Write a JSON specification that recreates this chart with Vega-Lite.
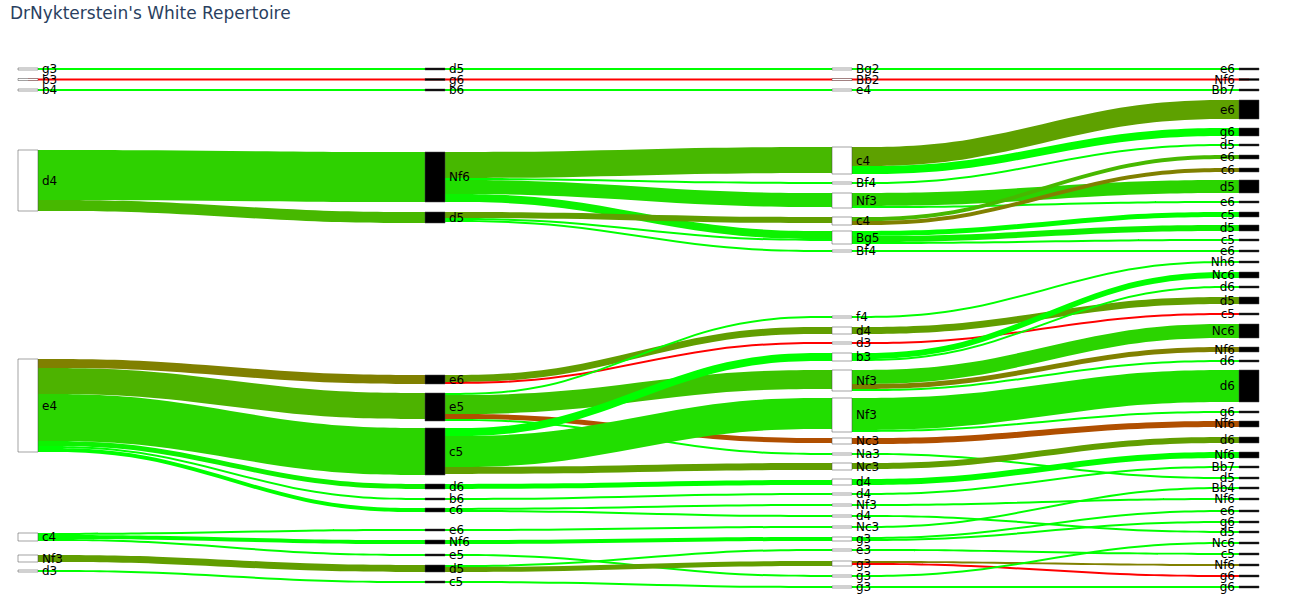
{
"$schema":"https://vega.github.io/schema/vega-lite/v6.json",
"width":1291,"height":614,
"autosize":"none",
"padding":0,
"background":"white",
"config":{"view":{"stroke":null}},
"title":{"text":"DrNykterstein's White Repertoire","anchor":"start","frame":"group","offset":-18,"dx":10,"dy":17.5,"baseline":"alphabetic","font":"DejaVu Sans","fontSize":17,"fontWeight":"normal","color":"#2a3f5f"},
"datasets":{
"nodes":[
{"id":1,"stage":0,"label":"g3","side":"White","y0":68,"y1":70},
{"id":2,"stage":0,"label":"b3","side":"White","y0":78.5,"y1":80.5},
{"id":3,"stage":0,"label":"b4","side":"White","y0":89,"y1":91},
{"id":4,"stage":0,"label":"d4","side":"White","y0":150,"y1":211},
{"id":5,"stage":0,"label":"e4","side":"White","y0":359,"y1":452},
{"id":6,"stage":0,"label":"c4","side":"White","y0":533,"y1":541},
{"id":7,"stage":0,"label":"Nf3","side":"White","y0":555,"y1":562},
{"id":8,"stage":0,"label":"d3","side":"White","y0":570,"y1":572},
{"id":9,"stage":1,"label":"d5","side":"Black","y0":68,"y1":70},
{"id":10,"stage":1,"label":"g6","side":"Black","y0":78.5,"y1":80.5},
{"id":11,"stage":1,"label":"b6","side":"Black","y0":89,"y1":91},
{"id":12,"stage":1,"label":"Nf6","side":"Black","y0":152,"y1":202},
{"id":13,"stage":1,"label":"d5","side":"Black","y0":212,"y1":223},
{"id":14,"stage":1,"label":"e6","side":"Black","y0":375,"y1":384},
{"id":15,"stage":1,"label":"e5","side":"Black","y0":393,"y1":421},
{"id":16,"stage":1,"label":"c5","side":"Black","y0":428,"y1":475},
{"id":17,"stage":1,"label":"d6","side":"Black","y0":484,"y1":489},
{"id":18,"stage":1,"label":"b6","side":"Black","y0":498,"y1":500},
{"id":19,"stage":1,"label":"c6","side":"Black","y0":508,"y1":512},
{"id":20,"stage":1,"label":"e6","side":"Black","y0":529,"y1":531},
{"id":21,"stage":1,"label":"Nf6","side":"Black","y0":540,"y1":544},
{"id":22,"stage":1,"label":"e5","side":"Black","y0":554,"y1":556},
{"id":23,"stage":1,"label":"d5","side":"Black","y0":565,"y1":572},
{"id":24,"stage":1,"label":"c5","side":"Black","y0":581,"y1":583},
{"id":25,"stage":2,"label":"Bg2","side":"White","y0":68,"y1":70},
{"id":26,"stage":2,"label":"Bb2","side":"White","y0":78.5,"y1":80.5},
{"id":27,"stage":2,"label":"e4","side":"White","y0":89,"y1":91},
{"id":28,"stage":2,"label":"c4","side":"White","y0":147,"y1":174},
{"id":29,"stage":2,"label":"Bf4","side":"White","y0":182,"y1":184},
{"id":30,"stage":2,"label":"Nf3","side":"White","y0":193,"y1":208},
{"id":31,"stage":2,"label":"c4","side":"White","y0":217,"y1":225},
{"id":32,"stage":2,"label":"Bg5","side":"White","y0":231,"y1":244},
{"id":33,"stage":2,"label":"Bf4","side":"White","y0":250,"y1":252},
{"id":34,"stage":2,"label":"f4","side":"White","y0":316,"y1":318},
{"id":35,"stage":2,"label":"d4","side":"White","y0":327,"y1":334},
{"id":36,"stage":2,"label":"d3","side":"White","y0":342,"y1":344},
{"id":37,"stage":2,"label":"b3","side":"White","y0":353,"y1":361},
{"id":38,"stage":2,"label":"Nf3","side":"White","y0":370,"y1":391},
{"id":39,"stage":2,"label":"Nf3","side":"White","y0":398,"y1":432},
{"id":40,"stage":2,"label":"Nc3","side":"White","y0":438,"y1":444},
{"id":41,"stage":2,"label":"Na3","side":"White","y0":453,"y1":455},
{"id":42,"stage":2,"label":"Nc3","side":"White","y0":463,"y1":470},
{"id":43,"stage":2,"label":"d4","side":"White","y0":479,"y1":485},
{"id":44,"stage":2,"label":"d4","side":"White","y0":493,"y1":495},
{"id":45,"stage":2,"label":"Nf3","side":"White","y0":504,"y1":506},
{"id":46,"stage":2,"label":"d4","side":"White","y0":515,"y1":517},
{"id":47,"stage":2,"label":"Nc3","side":"White","y0":526,"y1":528},
{"id":48,"stage":2,"label":"g3","side":"White","y0":537,"y1":541},
{"id":49,"stage":2,"label":"e3","side":"White","y0":549,"y1":551},
{"id":50,"stage":2,"label":"g3","side":"White","y0":561,"y1":566},
{"id":51,"stage":2,"label":"g3","side":"White","y0":575,"y1":577},
{"id":52,"stage":2,"label":"g3","side":"White","y0":586,"y1":588},
{"id":53,"stage":3,"label":"e6","side":"Black","y0":68,"y1":70},
{"id":54,"stage":3,"label":"Nf6","side":"Black","y0":78.5,"y1":80.5},
{"id":55,"stage":3,"label":"Bb7","side":"Black","y0":89,"y1":91},
{"id":56,"stage":3,"label":"e6","side":"Black","y0":100,"y1":119},
{"id":57,"stage":3,"label":"g6","side":"Black","y0":128,"y1":136},
{"id":58,"stage":3,"label":"d5","side":"Black","y0":144,"y1":146},
{"id":59,"stage":3,"label":"e6","side":"Black","y0":155,"y1":159},
{"id":60,"stage":3,"label":"c6","side":"Black","y0":168,"y1":172},
{"id":61,"stage":3,"label":"d5","side":"Black","y0":180,"y1":193},
{"id":62,"stage":3,"label":"e6","side":"Black","y0":201,"y1":203},
{"id":63,"stage":3,"label":"c5","side":"Black","y0":212,"y1":217},
{"id":64,"stage":3,"label":"d5","side":"Black","y0":225,"y1":231},
{"id":65,"stage":3,"label":"c5","side":"Black","y0":239,"y1":241},
{"id":66,"stage":3,"label":"e6","side":"Black","y0":250,"y1":252},
{"id":67,"stage":3,"label":"Nh6","side":"Black","y0":261,"y1":263},
{"id":68,"stage":3,"label":"Nc6","side":"Black","y0":272,"y1":278},
{"id":69,"stage":3,"label":"d6","side":"Black","y0":286,"y1":288},
{"id":70,"stage":3,"label":"d5","side":"Black","y0":297,"y1":304},
{"id":71,"stage":3,"label":"c5","side":"Black","y0":313,"y1":315},
{"id":72,"stage":3,"label":"Nc6","side":"Black","y0":324,"y1":338},
{"id":73,"stage":3,"label":"Nf6","side":"Black","y0":347,"y1":352},
{"id":74,"stage":3,"label":"d6","side":"Black","y0":360,"y1":362},
{"id":75,"stage":3,"label":"d6","side":"Black","y0":370,"y1":402},
{"id":76,"stage":3,"label":"g6","side":"Black","y0":411,"y1":413},
{"id":77,"stage":3,"label":"Nf6","side":"Black","y0":421,"y1":427},
{"id":78,"stage":3,"label":"d6","side":"Black","y0":437,"y1":443},
{"id":79,"stage":3,"label":"Nf6","side":"Black","y0":452,"y1":458},
{"id":80,"stage":3,"label":"Bb7","side":"Black","y0":466,"y1":468},
{"id":81,"stage":3,"label":"d5","side":"Black","y0":477,"y1":479},
{"id":82,"stage":3,"label":"Bb4","side":"Black","y0":487,"y1":489},
{"id":83,"stage":3,"label":"Nf6","side":"Black","y0":498,"y1":500},
{"id":84,"stage":3,"label":"e6","side":"Black","y0":510,"y1":512},
{"id":85,"stage":3,"label":"g6","side":"Black","y0":521,"y1":523},
{"id":86,"stage":3,"label":"d5","side":"Black","y0":531,"y1":533},
{"id":87,"stage":3,"label":"Nc6","side":"Black","y0":542,"y1":544},
{"id":88,"stage":3,"label":"c5","side":"Black","y0":553,"y1":555},
{"id":89,"stage":3,"label":"Nf6","side":"Black","y0":564,"y1":566},
{"id":90,"stage":3,"label":"g6","side":"Black","y0":575,"y1":577},
{"id":91,"stage":3,"label":"g6","side":"Black","y0":586,"y1":588}
],
"links":[
{"id":1,"s":1,"x":[0,0.3,0.7,1],"a":[68,68,68,68],"b":[70,70,70,70]},
{"id":2,"s":0,"x":[0,0.3,0.7,1],"a":[78.5,78.5,78.5,78.5],"b":[80.5,80.5,80.5,80.5]},
{"id":3,"s":1,"x":[0,0.3,0.7,1],"a":[89,89,89,89],"b":[91,91,91,91]},
{"id":4,"s":0.82,"x":[0,0.3,0.7,1],"a":[150,150,152,152],"b":[200,200,202,202]},
{"id":5,"s":0.72,"x":[0,0.3,0.7,1],"a":[200,200,212,212],"b":[211,211,223,223]},
{"id":6,"s":0.5,"x":[0,0.3,0.7,1],"a":[359,359,375,375],"b":[368,368,384,384]},
{"id":7,"s":0.7,"x":[0,0.3,0.7,1],"a":[368,368,393,393],"b":[394,394,419,419]},
{"id":8,"s":0.83,"x":[0,0.3,0.7,1],"a":[394,394,428,428],"b":[441,441,475,475]},
{"id":9,"s":0.95,"x":[0,0.3,0.7,1],"a":[441,441,484,484],"b":[446,446,489,489]},
{"id":10,"s":1,"x":[0,0.3,0.7,1],"a":[446,446,498,498],"b":[448,448,500,500]},
{"id":11,"s":1,"x":[0,0.3,0.7,1],"a":[448,448,508,508],"b":[452,452,512,512]},
{"id":12,"s":1,"x":[0,0.3,0.7,1],"a":[533,533,529,529],"b":[535,535,531,531]},
{"id":13,"s":1,"x":[0,0.3,0.7,1],"a":[535,535,540,540],"b":[539,539,544,544]},
{"id":14,"s":1,"x":[0,0.3,0.7,1],"a":[539,539,554,554],"b":[541,541,556,556]},
{"id":15,"s":0.62,"x":[0,0.3,0.7,1],"a":[555,555,565,565],"b":[562,562,572,572]},
{"id":16,"s":1,"x":[0,0.3,0.7,1],"a":[570,570,581,581],"b":[572,572,583,583]},
{"id":17,"s":1,"x":[1,1.3,1.7,2],"a":[68,68,68,68],"b":[70,70,70,70]},
{"id":18,"s":0,"x":[1,1.3,1.7,2],"a":[78.5,78.5,78.5,78.5],"b":[80.5,80.5,80.5,80.5]},
{"id":19,"s":1,"x":[1,1.3,1.7,2],"a":[89,89,89,89],"b":[91,91,91,91]},
{"id":20,"s":0.72,"x":[1,1.3,1.7,2],"a":[152,152,147,147],"b":[178,178,173,173]},
{"id":21,"s":1,"x":[1,1.3,1.7,2],"a":[178,178,182,182],"b":[180,180,184,184]},
{"id":22,"s":0.87,"x":[1,1.3,1.7,2],"a":[180,180,193,193],"b":[194,194,207,207]},
{"id":23,"s":0.95,"x":[1,1.3,1.7,2],"a":[194,194,231,231],"b":[202,202,239,239]},
{"id":24,"s":0.62,"x":[1,1.3,1.7,2],"a":[212,212,217,217],"b":[218,218,223,223]},
{"id":25,"s":1,"x":[1,1.3,1.7,2],"a":[218,218,239,239],"b":[220,220,241,241]},
{"id":26,"s":1,"x":[1,1.3,1.7,2],"a":[220,220,250,250],"b":[222,222,252,252]},
{"id":27,"s":0.62,"x":[1,1.3,1.7,2],"a":[375,375,327,327],"b":[382,382,334,334]},
{"id":28,"s":0,"x":[1,1.3,1.7,2],"a":[382,382,342,342],"b":[384,384,344,344]},
{"id":29,"s":1,"x":[1,1.3,1.7,2],"a":[393,393,316,316],"b":[395,395,318,318]},
{"id":30,"s":0.77,"x":[1,1.3,1.7,2],"a":[395,395,370,370],"b":[414,414,389,389]},
{"id":31,"s":0.31,"x":[1,1.3,1.7,2],"a":[414,414,438,438],"b":[419,419,443,443]},
{"id":32,"s":1,"x":[1,1.3,1.7,2],"a":[419,419,453,453],"b":[421,421,455,455]},
{"id":33,"s":1,"x":[1,1.3,1.7,2],"a":[428,428,353,353],"b":[436,436,361,361]},
{"id":34,"s":0.87,"x":[1,1.3,1.7,2],"a":[436,436,398,398],"b":[467,467,429,429]},
{"id":35,"s":0.62,"x":[1,1.3,1.7,2],"a":[467,467,463,463],"b":[474,474,470,470]},
{"id":36,"s":1,"x":[1,1.3,1.7,2],"a":[484,484,480,480],"b":[489,489,485,485]},
{"id":37,"s":1,"x":[1,1.3,1.7,2],"a":[498,498,493,493],"b":[500,500,495,495]},
{"id":38,"s":1,"x":[1,1.3,1.7,2],"a":[508,508,504,504],"b":[510,510,506,506]},
{"id":39,"s":1,"x":[1,1.3,1.7,2],"a":[510,510,515,515],"b":[512,512,517,517]},
{"id":40,"s":1,"x":[1,1.3,1.7,2],"a":[529,529,526,526],"b":[531,531,528,528]},
{"id":41,"s":1,"x":[1,1.3,1.7,2],"a":[540,540,537,537],"b":[544,544,541,541]},
{"id":42,"s":1,"x":[1,1.3,1.7,2],"a":[554,554,575,575],"b":[556,556,577,577]},
{"id":43,"s":1,"x":[1,1.3,1.7,2],"a":[565,565,549,549],"b":[567,567,551,551]},
{"id":44,"s":0.62,"x":[1,1.3,1.7,2],"a":[567,567,561,561],"b":[572,572,566,566]},
{"id":45,"s":1,"x":[1,1.3,1.7,2],"a":[581,581,586,586],"b":[583,583,588,588]},
{"id":46,"s":1,"x":[2,2.3,2.7,3],"a":[68,68,68,68],"b":[70,70,70,70]},
{"id":47,"s":0,"x":[2,2.3,2.7,3],"a":[78.5,78.5,78.5,78.5],"b":[80.5,80.5,80.5,80.5]},
{"id":48,"s":1,"x":[2,2.3,2.7,3],"a":[89,89,89,89],"b":[91,91,91,91]},
{"id":49,"s":0.63,"x":[2,2.3,2.7,3],"a":[147,147,100,100],"b":[166,166,119,119]},
{"id":50,"s":1,"x":[2,2.3,2.7,3],"a":[166,166,128,128],"b":[174,174,136,136]},
{"id":51,"s":1,"x":[2,2.3,2.7,3],"a":[182,182,144,144],"b":[184,184,146,146]},
{"id":52,"s":0.83,"x":[2,2.3,2.7,3],"a":[193,193,180,180],"b":[206,206,193,193]},
{"id":53,"s":1,"x":[2,2.3,2.7,3],"a":[206,206,201,201],"b":[208,208,203,203]},
{"id":54,"s":0.72,"x":[2,2.3,2.7,3],"a":[217,217,155,155],"b":[221,221,159,159]},
{"id":55,"s":0.5,"x":[2,2.3,2.7,3],"a":[221,221,168,168],"b":[225,225,172,172]},
{"id":56,"s":1,"x":[2,2.3,2.7,3],"a":[231,231,212,212],"b":[236,236,217,217]},
{"id":57,"s":0.95,"x":[2,2.3,2.7,3],"a":[236,236,225,225],"b":[242,242,231,231]},
{"id":58,"s":1,"x":[2,2.3,2.7,3],"a":[242,242,239,239],"b":[244,244,241,241]},
{"id":59,"s":1,"x":[2,2.3,2.7,3],"a":[250,250,250,250],"b":[252,252,252,252]},
{"id":60,"s":1,"x":[2,2.3,2.7,3],"a":[316,316,261,261],"b":[318,318,263,263]},
{"id":61,"s":0.62,"x":[2,2.3,2.7,3],"a":[327,327,297,297],"b":[334,334,304,304]},
{"id":62,"s":0,"x":[2,2.3,2.7,3],"a":[342,342,313,313],"b":[344,344,315,315]},
{"id":63,"s":1,"x":[2,2.3,2.7,3],"a":[353,353,272,272],"b":[359,359,278,278]},
{"id":64,"s":1,"x":[2,2.3,2.7,3],"a":[359,359,286,286],"b":[361,361,288,288]},
{"id":65,"s":0.83,"x":[2,2.3,2.7,3],"a":[370,370,324,324],"b":[384,384,338,338]},
{"id":66,"s":0.5,"x":[2,2.3,2.7,3],"a":[384,384,347,347],"b":[389,389,352,352]},
{"id":67,"s":1,"x":[2,2.3,2.7,3],"a":[389,389,360,360],"b":[391,391,362,362]},
{"id":68,"s":0.88,"x":[2,2.3,2.7,3],"a":[398,398,370,370],"b":[430,430,402,402]},
{"id":69,"s":1,"x":[2,2.3,2.7,3],"a":[430,430,411,411],"b":[432,432,413,413]},
{"id":70,"s":0.31,"x":[2,2.3,2.7,3],"a":[438,438,421,421],"b":[444,444,427,427]},
{"id":71,"s":1,"x":[2,2.3,2.7,3],"a":[453,453,477,477],"b":[455,455,479,479]},
{"id":72,"s":0.62,"x":[2,2.3,2.7,3],"a":[463,463,437,437],"b":[469,469,443,443]},
{"id":73,"s":1,"x":[2,2.3,2.7,3],"a":[479,479,452,452],"b":[485,485,458,458]},
{"id":74,"s":1,"x":[2,2.3,2.7,3],"a":[493,493,466,466],"b":[495,495,468,468]},
{"id":75,"s":1,"x":[2,2.3,2.7,3],"a":[504,504,498,498],"b":[506,506,500,500]},
{"id":76,"s":1,"x":[2,2.3,2.7,3],"a":[515,515,531,531],"b":[517,517,533,533]},
{"id":77,"s":1,"x":[2,2.3,2.7,3],"a":[526,526,487,487],"b":[528,528,489,489]},
{"id":78,"s":1,"x":[2,2.3,2.7,3],"a":[537,537,510,510],"b":[539,539,512,512]},
{"id":79,"s":1,"x":[2,2.3,2.7,3],"a":[539,539,521,521],"b":[541,541,523,523]},
{"id":80,"s":1,"x":[2,2.3,2.7,3],"a":[549,549,553,553],"b":[551,551,555,555]},
{"id":81,"s":0.5,"x":[2,2.3,2.7,3],"a":[561,561,564,564],"b":[563,563,566,566]},
{"id":82,"s":0,"x":[2,2.3,2.7,3],"a":[563,563,575,575],"b":[565,565,577,577]},
{"id":83,"s":1,"x":[2,2.3,2.7,3],"a":[575,575,542,542],"b":[577,577,544,544]},
{"id":84,"s":1,"x":[2,2.3,2.7,3],"a":[586,586,586,586],"b":[588,588,588,588]}
]
},
"layer":[
{
"data":{"name":"links"},
"transform":[{"flatten":["x","a","b"]}],
"mark":{"type":"area","interpolate":"basis","orient":"vertical"},
"encoding":{
"x":{"field":"x","type":"quantitative","scale":{"domain":[0,3],"range":[28,1249],"nice":false,"zero":false},"axis":null},
"y":{"field":"a","type":"quantitative","scale":{"domain":[0,614],"reverse":true,"nice":false,"zero":false},"axis":null},
"y2":{"field":"b"},
"color":{"field":"s","type":"quantitative","scale":{"domain":[0,1],"range":["#ff0000","#00ff00"],"interpolate":"rgb"},"legend":null},
"detail":{"field":"id","type":"nominal"},
"order":{"value":null}
}
},
{
"data":{"name":"nodes"},
"mark":{"type":"rect","xOffset":-10,"x2Offset":10,"stroke":"#444","strokeWidth":0.5},
"encoding":{
"x":{"field":"stage","type":"quantitative","scale":{"domain":[0,3],"range":[28,1249],"nice":false,"zero":false},"axis":null},
"x2":{"field":"stage"},
"y":{"field":"y0","type":"quantitative","axis":null},
"y2":{"field":"y1"},
"fill":{"field":"side","type":"nominal","scale":{"domain":["White","Black"],"range":["#ffffff","#000000"]},"legend":null}
}
},
{
"data":{"name":"nodes"},
"transform":[{"fold":["y0","y1"],"as":["k","v"]},{"aggregate":[{"op":"mean","field":"v","as":"ym"}],"groupby":["id","stage","label"]}],
"layer":[
{"transform":[{"filter":"datum.stage < 3"}],
 "mark":{"type":"text","align":"left","baseline":"middle","dx":14,"font":"DejaVu Sans","fontSize":12,"fill":"#000000"},
 "encoding":{"x":{"field":"stage","type":"quantitative","axis":null},"y":{"field":"ym","type":"quantitative","axis":null},"text":{"field":"label"}}},
{"transform":[{"filter":"datum.stage == 3"}],
 "mark":{"type":"text","align":"right","baseline":"middle","dx":-14,"font":"DejaVu Sans","fontSize":12,"fill":"#000000"},
 "encoding":{"x":{"field":"stage","type":"quantitative","axis":null},"y":{"field":"ym","type":"quantitative","axis":null},"text":{"field":"label"}}}
]
}
]
}
